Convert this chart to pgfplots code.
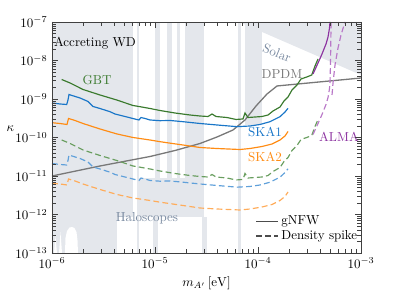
\documentclass[border=0pt]{standalone}
\usepackage{pgfplots}
\pgfplotsset{compat=1.18}
\definecolor{gfill}{RGB}{228,231,236}
\definecolor{gbt}{RGB}{58,122,46}
\definecolor{gbtl}{RGB}{105,158,95}
\definecolor{skab}{RGB}{25,118,200}
\definecolor{skabl}{RGB}{95,160,218}
\definecolor{skao}{RGB}{255,140,20}
\definecolor{skaol}{RGB}{255,172,90}
\definecolor{alma}{RGB}{140,50,160}
\definecolor{almal}{RGB}{185,120,200}
\definecolor{dpdm}{RGB}{120,120,120}
\definecolor{slate}{RGB}{118,135,158}
\begin{document}
\begin{tikzpicture}
\begin{axis}[
 scale only axis, width=237.7pt, height=177.7pt,
 xmode=log, ymode=log, xmin=1e-6, xmax=1e-3, ymin=1e-13, ymax=1e-7,
 axis on top,
 xlabel={$m_{A'}\,[\mathrm{eV}]$}, ylabel={$\kappa$},
 ylabel style={rotate=-90, at={(axis description cs:-0.135,0.54)}, anchor=center},
 legend style={draw=none, fill=none, at={(axis description cs:0.645,0.185)}, anchor=north west, row sep=-1pt},
 legend cell align=left,
 axis line style={black!75}, tick style={black!75},
]
% ---- grey excluded regions ----
\addplot[fill=gfill, draw=none, forget plot] coordinates {(1e-6,8.61e-13) (6.114e-6,8.61e-13) (6.114e-6,1e-7) (1e-6,1e-7)} -- cycle;
\addplot[fill=gfill, draw=none, forget plot] coordinates {(1e-6,1e-13) (4.277e-6,1e-13) (4.277e-6,8.61e-13) (1e-6,8.61e-13)} -- cycle;
\addplot[fill=gfill, draw=none, forget plot] coordinates {(6.993e-6,8.61e-13) (2.991e-5,8.61e-13) (2.991e-5,8.87e-12) (6.993e-6,8.87e-12)} -- cycle;
\addplot[fill=gfill, draw=none, forget plot] coordinates {(6.687e-6,1e-13) (6.993e-6,1e-13) (6.993e-6,1e-7) (6.687e-6,1e-7)} -- cycle;
\addplot[fill=gfill, draw=none, forget plot] coordinates {(1e-5,8.61e-13) (1.118e-5,8.61e-13) (1.118e-5,1e-7) (1e-5,1e-7)} -- cycle;
\addplot[fill=gfill, draw=none, forget plot] coordinates {(1.308e-5,8.61e-13) (1.462e-5,8.61e-13) (1.462e-5,1e-7) (1.308e-5,1e-7)} -- cycle;
\addplot[fill=gfill, draw=none, forget plot] coordinates {(1.635e-5,8.61e-13) (1.748e-5,8.61e-13) (1.748e-5,1e-7) (1.635e-5,1e-7)} -- cycle;
\addplot[fill=gfill, draw=none, forget plot] coordinates {(1.956e-5,8.61e-13) (2.991e-5,8.61e-13) (2.991e-5,1e-7) (1.956e-5,1e-7)} -- cycle;
\addplot[fill=gfill, draw=none, forget plot] coordinates {(9.563e-6,1e-13) (1.069e-5,1e-13) (1.069e-5,8.61e-13) (9.563e-6,8.61e-13)} -- cycle;
\addplot[fill=gfill, draw=none, forget plot] coordinates {(2.860e-5,1e-13) (3.198e-5,1e-13) (3.198e-5,8.61e-13) (2.860e-5,8.61e-13)} -- cycle;
\addplot[fill=gfill, draw=none, forget plot] coordinates {(6.394e-5,1e-13) (6.839e-5,1e-13) (6.839e-5,1e-7) (6.394e-5,1e-7)} -- cycle;
\addplot[fill=gfill, draw=none, forget plot] coordinates {(7.477e-5,2.113e-10) (1.094e-4,2.113e-10) (1.094e-4,1e-7) (7.477e-5,1e-7)} -- cycle;
\addplot[fill=gfill, draw=none, forget plot] coordinates {(6.54e-5,1e-7) (1e-3,1e-7) (1e-3,4.198e-9)} -- cycle;
% white cut-outs at the bottom left
\addplot[fill=white, draw=none, forget plot] coordinates {(1.337e-6,1e-13) (1.352e-6,2.455e-13) (1.398e-6,3.724e-13) (1.479e-6,4.59e-13) (1.564e-6,4.73e-13) (1.653e-6,4.46e-13) (1.729e-6,3.51e-13) (1.768e-6,2.18e-13) (1.788e-6,1e-13)} -- cycle;
\addplot[fill=white, draw=none, forget plot] coordinates {(1.046e-6,1e-13) (1.081e-6,2.766e-13) (1.118e-6,1e-13)} -- cycle;
\addplot[fill=white, draw=none, forget plot] coordinates {(1.169e-6,1e-13) (1.209e-6,3.51e-13) (1.251e-6,1e-13)} -- cycle;
% ---- DPDM ----
\addplot[dpdm, line width=1pt, forget plot] coordinates {(1e-6,1e-11) (2.924e-6,1.820e-11) (8.944e-6,3.209e-11) (1.564e-5,4.592e-11) (2.735e-5,6.983e-11) (3.999e-5,1.030e-10) (5.718e-5,1.566e-10) (7.477e-5,2.851e-10) (9.563e-5,6.577e-10) (1.223e-4,1.349e-9) (1.529e-4,2.178e-9) (1e-3,3.508e-9)};
% ---- GBT ----
\addplot[gbt, line width=0.9pt, forget plot] coordinates {(1.242e-6,3.209e-9) (1.496e-6,2.606e-9) (2.000e-6,1.766e-9) (2.924e-6,1.271e-9) (4.248e-6,9.419e-10) (6.114e-6,6.776e-10) (7.151e-6,6.310e-10) (8.944e-6,5.662e-10) (1.118e-5,5.023e-10) (1.564e-5,4.325e-10) (2.187e-5,3.837e-10) (2.735e-5,3.614e-10) (3.270e-5,3.508e-10) (3.576e-5,4.074e-10) (3.910e-5,3.508e-10) (5.000e-5,3.304e-10) (6.114e-5,2.938e-10) (7.151e-5,3.027e-10) (7.477e-5,4.325e-10) (7.996e-5,3.304e-10) (9.352e-5,3.404e-10) (1.094e-4,3.508e-10) (1.251e-4,3.837e-10) (1.398e-4,4.875e-10) (1.635e-4,6.194e-10) (1.788e-4,8.872e-10) (1.956e-4,1.127e-9) (2.138e-4,1.714e-9) (2.391e-4,2.312e-9) (2.615e-4,3.307e-9) (2.971e-4,3.726e-9) (3.322e-4,4.198e-9) (3.576e-4,7.194e-9) (3.824e-4,1.094e-8)};
\addplot[gbtl, line width=0.9pt, dash pattern=on 4.5pt off 2.5pt, forget plot] coordinates {(1.242e-6,8.616e-11) (1.496e-6,6.997e-11) (2.000e-6,4.742e-11) (2.924e-6,3.413e-11) (4.248e-6,2.529e-11) (6.114e-6,1.819e-11) (7.151e-6,1.694e-11) (8.944e-6,1.520e-11) (1.118e-5,1.349e-11) (1.564e-5,1.161e-11) (2.187e-5,1.030e-11) (2.735e-5,9.704e-12) (3.270e-5,9.419e-12) (3.576e-5,1.094e-11) (3.910e-5,9.419e-12) (5.000e-5,8.871e-12) (6.114e-5,7.889e-12) (7.151e-5,8.127e-12) (7.477e-5,1.161e-11) (7.996e-5,8.871e-12) (9.352e-5,9.140e-12) (1.094e-4,9.419e-12) (1.251e-4,1.030e-11) (1.398e-4,1.309e-11) (1.635e-4,1.663e-11) (1.788e-4,2.382e-11) (1.956e-4,3.026e-11) (2.138e-4,4.602e-11) (2.391e-4,6.208e-11) (2.615e-4,8.879e-11) (2.971e-4,1.000e-10) (3.322e-4,1.127e-10) (3.576e-4,1.932e-10) (3.824e-4,2.937e-10)};
% ---- SKA1 ----
\addplot[skab, line width=0.9pt, forget plot] coordinates {(1e-6,7.870e-10) (1.196e-6,7.413e-10) (1.389e-6,7.194e-10) (1.430e-6,9.419e-10) (1.462e-6,1.309e-9) (1.564e-6,1.233e-9) (1.870e-6,1.062e-9) (2.237e-6,8.610e-10) (2.391e-6,7.194e-10) (2.500e-6,6.383e-10) (2.924e-6,5.662e-10) (3.657e-6,4.677e-10) (4.090e-6,4.074e-10) (5.114e-6,3.508e-10) (6.643e-6,2.938e-10) (6.993e-6,2.851e-10) (7.313e-6,3.304e-10) (7.996e-6,3.119e-10) (8.944e-6,2.851e-10) (1.118e-5,2.731e-10) (1.398e-5,2.767e-10) (1.870e-5,2.572e-10) (2.735e-5,2.310e-10) (3.999e-5,2.113e-10) (6.253e-5,1.910e-10) (8.362e-5,1.990e-10) (1.046e-4,2.177e-10) (1.308e-4,2.572e-10) (1.635e-4,3.467e-10) (1.828e-4,4.592e-10) (1.956e-4,5.728e-10)};
\addplot[skabl, line width=0.9pt, dash pattern=on 4.5pt off 2.5pt, forget plot] coordinates {(1e-6,2.113e-11) (1.196e-6,1.990e-11) (1.389e-6,1.932e-11) (1.430e-6,2.529e-11) (1.462e-6,3.515e-11) (1.564e-6,3.311e-11) (1.870e-6,2.851e-11) (2.237e-6,2.312e-11) (2.391e-6,1.932e-11) (2.500e-6,1.714e-11) (2.924e-6,1.520e-11) (3.657e-6,1.256e-11) (4.090e-6,1.094e-11) (5.114e-6,9.419e-12) (6.643e-6,7.889e-12) (6.993e-6,7.655e-12) (7.313e-6,8.871e-12) (7.996e-6,8.374e-12) (8.944e-6,7.655e-12) (1.118e-5,7.333e-12) (1.398e-5,7.429e-12) (1.870e-5,6.906e-12) (2.735e-5,6.202e-12) (3.999e-5,5.673e-12) (6.253e-5,5.128e-12) (8.362e-5,5.343e-12) (1.046e-4,5.845e-12) (1.308e-4,6.906e-12) (1.635e-4,9.309e-12) (1.828e-4,1.233e-11) (1.956e-4,1.538e-11)};
% ---- SKA2 ----
\addplot[skao, line width=0.9pt, forget plot] coordinates {(1e-6,2.422e-10) (1.196e-6,2.310e-10) (1.398e-6,2.177e-10) (1.446e-6,3.119e-10) (1.672e-6,2.767e-10) (2.000e-6,2.310e-10) (2.924e-6,1.663e-10) (4.277e-6,1.233e-10) (6.114e-6,1.0e-10) (8.944e-6,8.610e-11) (1.118e-5,7.780e-11) (1.870e-5,6.383e-11) (2.735e-5,5.495e-11) (3.999e-5,5.176e-11) (6.687e-5,4.875e-11) (8.362e-5,5.176e-11) (1.094e-4,5.834e-11) (1.367e-4,6.776e-11) (1.635e-4,8.610e-11) (1.828e-4,1.094e-10) (1.956e-4,1.432e-10)};
\addplot[skaol, line width=0.9pt, dash pattern=on 4.5pt off 2.5pt, forget plot] coordinates {(1e-6,6.503e-12) (1.196e-6,6.202e-12) (1.398e-6,5.845e-12) (1.446e-6,8.374e-12) (1.672e-6,7.429e-12) (2.000e-6,6.202e-12) (2.924e-6,4.465e-12) (4.277e-6,3.311e-12) (6.114e-6,2.685e-12) (8.944e-6,2.312e-12) (1.118e-5,2.089e-12) (1.870e-5,1.714e-12) (2.735e-5,1.475e-12) (3.999e-5,1.390e-12) (6.687e-5,1.309e-12) (8.362e-5,1.390e-12) (1.094e-4,1.566e-12) (1.367e-4,1.819e-12) (1.635e-4,2.312e-12) (1.828e-4,2.937e-12) (1.956e-4,3.845e-12)};
% ---- ALMA ----
\addplot[alma, line width=0.9pt, forget plot] coordinates {(3.420e-4,4.457e-9) (3.824e-4,8.610e-9) (4.182e-4,1.476e-8) (4.573e-4,2.685e-8) (4.782e-4,4.074e-8) (4.945e-4,6.986e-8) (5.0e-4,1e-7)};
\addplot[almal, line width=0.9pt, dash pattern=on 4.5pt off 2.5pt, forget plot] coordinates {(3.420e-4,1.197e-10) (3.824e-4,2.312e-10) (4.182e-4,3.963e-10) (4.573e-4,7.209e-10) (4.782e-4,1.094e-9) (4.945e-4,1.876e-9) (5.0e-4,2.685e-9) (5.06e-4,1e-8) (5.12e-4,1e-7)};
\addplot[almal, line width=0.9pt, dash pattern=on 4.5pt off 2.5pt, forget plot] coordinates {(5.229e-4,1.271e-9) (5.347e-4,2.606e-9) (5.592e-4,7.638e-9) (5.980e-4,2.113e-8) (6.393e-4,4.596e-8) (6.993e-4,1e-7)};
% ---- legend ----
\addlegendimage{black!70, line width=0.9pt}
\addlegendentry{gNFW}
\addlegendimage{black!70, line width=0.9pt, dash pattern=on 4.5pt off 2.5pt}
\addlegendentry{Density spike}
% ---- labels ----
\node at (axis cs:2.615e-6,2.85e-8) {Accreting WD};
\node[gbt] at (axis cs:2.735e-6,3.12e-9) {GBT};
\node[slate, rotate=-22, inner sep=0pt] at (axis cs:1.53e-4,1.55e-8) {Solar};
\node[dpdm, inner sep=0pt] at (axis cs:1.71e-4,4.50e-9) {DPDM};
\node[skab] at (axis cs:1.169e-4,1.39e-10) {SKA1};
\node[skao] at (axis cs:1.169e-4,3.12e-11) {SKA2};
\node[alma] at (axis cs:6.11e-4,1.03e-10) {ALMA};
\node[slate] at (axis cs:8.36e-6,8.11e-13) {Haloscopes};
\end{axis}
\pgfresetboundingbox
\useasboundingbox (-40pt,-35.4pt) rectangle (266.9pt,194.6pt);
\end{tikzpicture}
\end{document}
